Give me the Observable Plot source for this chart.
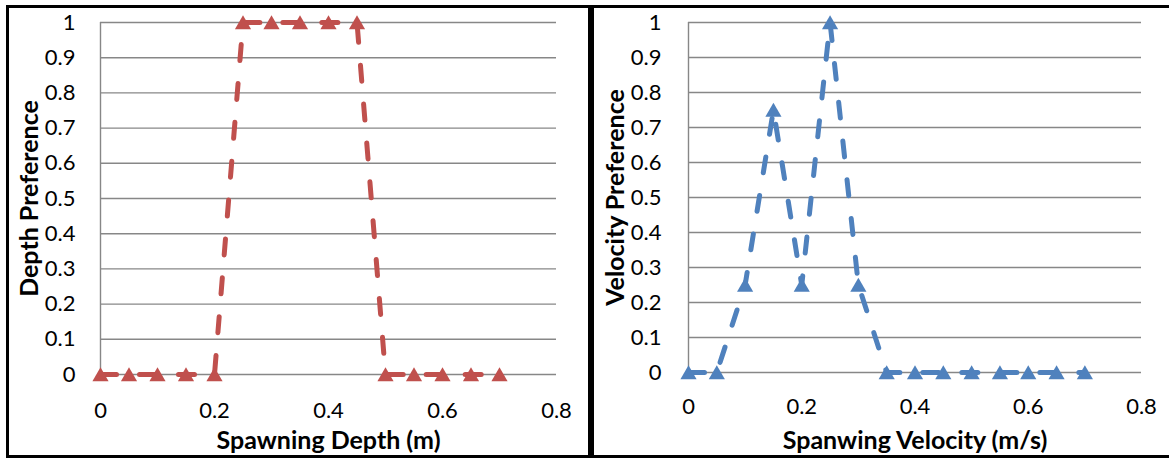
<!DOCTYPE html>
<html>
<head>
<meta charset="utf-8">
<script src="https://cdn.jsdelivr.net/npm/d3@7"></script>
<script src="https://cdn.jsdelivr.net/npm/@observablehq/plot@0.6"></script>
<style>
  html, body { margin: 0; padding: 0; background: #fff; }
  #wrap { position: relative; width: 1169px; height: 458px; overflow: hidden; background: #fff; }
  .box { position: absolute; box-sizing: border-box; border: 3px solid #000; }
  .panel { position: absolute; }
  .panel svg { display: block; }
</style>
</head>
<body>
<div id="wrap">
  <div class="box" style="left:6px; top:5px; width:585px; height:453px;"></div>
  <div class="box" style="left:591px; top:5px; width:600px; height:453px;"></div>
  <div class="panel" id="left" style="left:9px; top:8px;"></div>
  <div class="panel" id="right" style="left:594px; top:8px;"></div>
</div>
<script>
// ---- data ----
const depthX = [0, 0.05, 0.1, 0.15, 0.2, 0.25, 0.3, 0.35, 0.4, 0.45, 0.5, 0.55, 0.6, 0.65, 0.7];
const depthPref = [0, 0, 0, 0, 0, 1, 1, 1, 1, 1, 0, 0, 0, 0, 0];
const velocityX = [0, 0.05, 0.1, 0.15, 0.2, 0.25, 0.3, 0.35, 0.4, 0.45, 0.5, 0.55, 0.6, 0.65, 0.7];
const velocityPref = [0, 0, 0.25, 0.75, 0.25, 1, 0.25, 0, 0, 0, 0, 0, 0, 0, 0];
const yTicks = [0, 0.1, 0.2, 0.3, 0.4, 0.5, 0.6, 0.7, 0.8, 0.9, 1];
const xTicks = [0, 0.2, 0.4, 0.6, 0.8];
const depthTitleX = "Spawning Depth (m)";
const depthTitleY = "Depth Preference";
const velocityTitleX = "Spanwing Velocity (m/s)";
const velocityTitleY = "Velocity Preference";

const FONT = "Lato, 'Open Sans', sans-serif";

function makeChart(xs, ys, color, opts) {
  const data = xs.map((x, i) => ({x, y: ys[i]}));
  return Plot.plot({
    width: opts.width,
    height: 447,
    marginLeft: opts.ml,
    marginRight: opts.mr,
    marginTop: 14,
    marginBottom: opts.mb,
    style: {fontFamily: FONT, fontSize: "22px", color: "#000", background: "transparent", overflow: "visible"},
    x: {domain: [0, 0.8], ticks: xTicks},
    y: {domain: [0, 1], ticks: yTicks},
    marks: [
      Plot.ruleY(yTicks, {x1: 0, x2: 0.8, stroke: "#878787", strokeWidth: 1.4, strokeOpacity: 1}),
      Plot.ruleX([0], {y1: 0, y2: 1, stroke: "#878787", strokeWidth: 1.4, strokeOpacity: 1}),
      Plot.axisY(yTicks, {tickSize: 0, tickPadding: opts.yPad, label: null, tickFormat: d => String(d), fontSize: 22}),
      Plot.axisX(xTicks, {tickSize: 0, tickPadding: opts.xPad, label: null, tickFormat: d => String(d), fontSize: 22}),
      Plot.line(data, {x: "x", y: "y", stroke: color, strokeWidth: 5, strokeDasharray: "16,23", strokeLinecap: "round", curve: "linear"}),
      Plot.dot(data, {x: "x", y: "y", symbol: "triangle", r: 6, dy: 2, fill: color, stroke: "none"}),
      Plot.text([opts.titleX], {text: d => d, frameAnchor: "bottom", dy: opts.titleDy, lineAnchor: "middle", fontWeight: "bold", fontSize: 25, fill: "#000"}),
      Plot.text([opts.titleY], {text: d => d, frameAnchor: "left", dx: opts.titleDx, rotate: -90, textAnchor: "middle", lineAnchor: "middle", fontWeight: "bold", fontSize: 25, fill: "#000"})
    ]
  });
}

document.getElementById("left").appendChild(makeChart(depthX, depthPref, "#C0504D", {
  width: 579, ml: 91, mr: 32, mb: 81, yPad: 25, xPad: 28, titleDy: 66, titleDx: -71,
  titleX: depthTitleX, titleY: depthTitleY
}));
document.getElementById("right").appendChild(makeChart(velocityX, velocityPref, "#4F81BD", {
  width: 575, ml: 94, mr: 28, mb: 83, yPad: 27, xPad: 26, titleDy: 68, titleDx: -73,
  titleX: velocityTitleX, titleY: velocityTitleY
}));
</script>
</body>
</html>
